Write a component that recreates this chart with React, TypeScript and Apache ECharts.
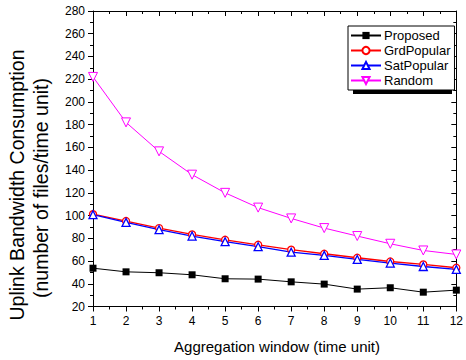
import React, { useEffect, useRef } from "react";
import * as echarts from "echarts";

const windows = [1, 2, 3, 4, 5, 6, 7, 8, 9, 10, 11, 12];
const proposed = [53.7, 50.5, 49.7, 47.9, 44.4, 44.1, 41.7, 39.7, 35.3, 36.5, 32.6, 34.4];
const grdPopular = [101.3, 95.2, 89.0, 83.4, 78.7, 74.3, 70.0, 66.4, 62.9, 59.6, 57.0, 54.1];
const satPopular = [100.8, 94.0, 87.6, 82.0, 77.0, 72.6, 67.8, 65.0, 61.4, 58.2, 55.2, 52.6];
const random = [222, 182, 156.5, 136, 120, 107, 97.5, 89, 82, 75.2, 69.3, 65.8];

const FONT = "'Liberation Sans', Arial, sans-serif";

export default function App() {
  const ref = useRef<HTMLDivElement>(null);
  useEffect(() => {
    if (!ref.current) return;
    const chart = echarts.init(ref.current, undefined, { renderer: "svg" });
    const pair = (arr: number[]) => arr.map((v, i) => [windows[i], v]);
    const axisLine = { show: true, onZero: false, lineStyle: { color: "#000", width: 1 } };
    const xBase = {
      type: "value" as const,
      min: 1,
      max: 12,
      interval: 1,
      splitLine: { show: false },
      axisLine,
    };
    const yBase = {
      type: "value" as const,
      min: 20,
      max: 280,
      interval: 20,
      splitLine: { show: false },
      axisLine,
    };
    chart.setOption({
      animation: false,
      backgroundColor: "#fff",
      textStyle: { fontFamily: FONT },
      grid: { left: 93, right: 6, top: 11, bottom: 53.5, containLabel: false },
      xAxis: [
        {
          ...xBase,
          position: "bottom",
          axisTick: { show: true, inside: false, length: 5, lineStyle: { color: "#000" } },
          minorTick: { show: true, splitNumber: 2, length: 3, lineStyle: { color: "#000" } },
          axisLabel: { color: "#000", fontSize: 12, fontFamily: FONT, margin: 8 },
        },
        {
          ...xBase,
          position: "top",
          axisTick: { show: true, inside: true, length: 5, lineStyle: { color: "#000" } },
          minorTick: { show: true, splitNumber: 2, length: 3, lineStyle: { color: "#000" } },
          axisLabel: { show: false },
        },
      ],
      yAxis: [
        {
          ...yBase,
          position: "left",
          axisTick: { show: true, inside: false, length: 5, lineStyle: { color: "#000" } },
          minorTick: { show: true, splitNumber: 2, length: 3, lineStyle: { color: "#000" } },
          axisLabel: { color: "#000", fontSize: 12, fontFamily: FONT, margin: 8 },
        },
        {
          ...yBase,
          position: "right",
          axisTick: { show: true, inside: true, length: 5, lineStyle: { color: "#000" } },
          minorTick: { show: true, splitNumber: 2, length: 3, lineStyle: { color: "#000" } },
          axisLabel: { show: false },
        },
      ],
      legend: {
        show: true,
        left: 348,
        top: 26,
        orient: "vertical",
        itemWidth: 30,
        itemHeight: 9,
        itemGap: 2,
        padding: [3, 4, 3, 2],
        backgroundColor: "#fff",
        borderColor: "#000",
        borderWidth: 1,
        borderRadius: 0,
        z: 10,
        textStyle: { color: "#000", fontSize: 13, fontFamily: FONT, padding: [0, 0, 0, -2] },
        data: ["Proposed", "GrdPopular", "SatPopular", "Random"],
      },
      graphic: [
        {
          type: "rect",
          z: 5,
          shape: { x: 353, y: 31, width: 99, height: 63 },
          style: { fill: "#000" },
        },
        {
          type: "text",
          x: 17,
          y: 185,
          rotation: Math.PI / 2,
          style: {
            text: "Uplink Bandwidth Consumption",
            fill: "#000",
            font: `19.5px ${FONT}`,
            textAlign: "center",
            textVerticalAlign: "middle",
          },
        },
        {
          type: "text",
          x: 41,
          y: 188,
          rotation: Math.PI / 2,
          style: {
            text: "(number of files/time unit)",
            fill: "#000",
            font: `19.5px ${FONT}`,
            textAlign: "center",
            textVerticalAlign: "middle",
          },
        },
        {
          type: "text",
          x: 277,
          y: 346,
          style: {
            text: "Aggregation window (time unit)",
            fill: "#000",
            font: `15px ${FONT}`,
            textAlign: "center",
            textVerticalAlign: "middle",
          },
        },
      ],
      series: [
        {
          name: "Proposed",
          type: "line",
          data: pair(proposed),
          symbol: "rect",
          symbolSize: 7,
          lineStyle: { color: "#000", width: 1 },
          itemStyle: { color: "#000" },
        },
        {
          name: "GrdPopular",
          type: "line",
          data: pair(grdPopular),
          symbol: "circle",
          symbolSize: 7,
          lineStyle: { color: "#ff0000", width: 1.3 },
          itemStyle: { color: "#fff", borderColor: "#ff0000", borderWidth: 1.3 },
        },
        {
          name: "SatPopular",
          type: "line",
          data: pair(satPopular),
          symbol: "triangle",
          symbolSize: 8,
          lineStyle: { color: "#0000ff", width: 1.3 },
          itemStyle: { color: "#fff", borderColor: "#0000ff", borderWidth: 1.3 },
        },
        {
          name: "Random",
          type: "line",
          data: pair(random),
          symbol: "triangle",
          symbolRotate: 180,
          symbolSize: 9,
          lineStyle: { color: "#ff00ff", width: 1 },
          itemStyle: { color: "#fff", borderColor: "#ff00ff", borderWidth: 1 },
        },
      ],
    });
    return () => chart.dispose();
  }, []);
  return <div ref={ref} style={{ width: 466, height: 360, position: "absolute", left: 0, top: 0 }} />;
}
